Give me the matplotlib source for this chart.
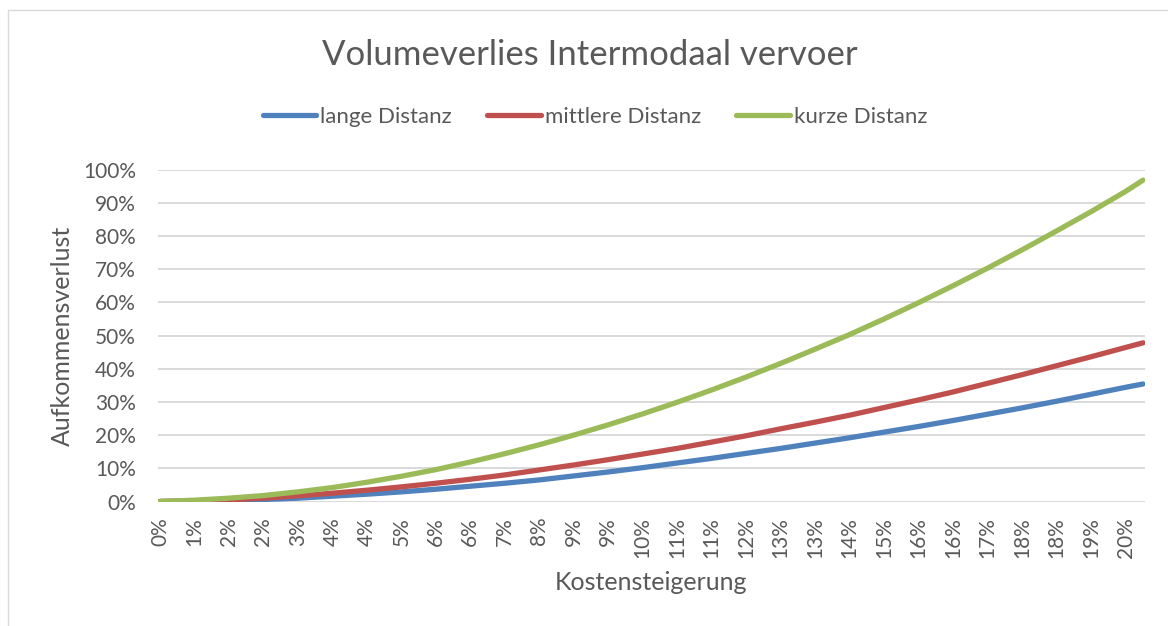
#--------------------------------------------------
# Volumeverlies Intermodaal vervoer: Aufkommensverlust vs. Kostensteigerung
#--------------------------------------------------
import matplotlib.pyplot as plt
from matplotlib.patches import Rectangle
from matplotlib.ticker import PercentFormatter

plt.rcParams['font.family'] = ['Lato', 'DejaVu Sans']

#--------------------------------------------------
# Daten
#--------------------------------------------------
# Kostensteigerung in %
kosten = [0.00, 0.71, 1.42, 2.13, 2.84, 3.55, 4.26, 4.97, 5.68, 6.39,
          7.10, 7.81, 8.52, 9.23, 9.94, 10.65, 11.36, 12.07, 12.78, 13.49,
          14.20, 14.91, 15.62, 16.33, 17.04, 17.75, 18.46, 19.17, 19.88, 20.24]
tick_labels = ['0%', '1%', '2%', '2%', '3%', '4%', '4%', '5%', '6%', '6%',
               '7%', '8%', '9%', '9%', '10%', '11%', '11%', '12%', '13%', '13%',
               '14%', '15%', '16%', '16%', '17%', '18%', '18%', '19%', '20%']

# Aufkommensverlust in %
lange = [0.0, 0.1, 0.3, 0.6, 1.0, 1.6, 2.2, 2.9, 3.7, 4.6,
         5.5, 6.5, 7.7, 8.9, 10.2, 11.6, 13.0, 14.5, 16.0, 17.6,
         19.2, 20.9, 22.6, 24.4, 26.3, 28.2, 30.2, 32.3, 34.4, 35.4]
mittlere = [0.0, 0.2, 0.5, 1.0, 1.7, 2.5, 3.4, 4.4, 5.5, 6.7,
            8.0, 9.5, 11.0, 12.6, 14.3, 16.0, 17.9, 19.8, 21.9, 23.9,
            26.0, 28.3, 30.6, 33.0, 35.6, 38.2, 40.9, 43.6, 46.4, 47.8]
kurze = [0.0, 0.4, 1.0, 1.8, 2.9, 4.2, 5.8, 7.6, 9.6, 11.9,
         14.4, 17.1, 20.0, 23.1, 26.4, 29.9, 33.6, 37.5, 41.6, 45.9,
         50.3, 55.0, 59.9, 65.0, 70.3, 75.8, 81.5, 87.3, 93.4, 96.8]

series = [('lange Distanz', lange, '#4F81BD'),
          ('mittlere Distanz', mittlere, '#C0504D'),
          ('kurze Distanz', kurze, '#9BBB59')]

text_color = '#595959'

#--------------------------------------------------
# Grafik
#--------------------------------------------------
fig = plt.figure(figsize=(11.68, 6.26), dpi=100)
fig.patches.append(Rectangle((8 / 1168, -0.01), 1.02, (626 - 10) / 626 + 0.01,
                             transform=fig.transFigure, fill=False,
                             edgecolor='#D9D9D9', linewidth=1.0))

ax = fig.add_axes([158 / 1168, 124.5 / 626, (1145 - 158) / 1168, 332 / 626])

for name, values, color in series:
    ax.plot(kosten, values, color=color, linewidth=3.8, label=name,
            solid_capstyle='round')

ax.set_xlim(-0.04, 20.28)
ax.set_ylim(0, 100)
ax.set_yticks(range(0, 101, 10))
ax.yaxis.set_major_formatter(PercentFormatter(decimals=0))
ax.set_xticks(kosten[:len(tick_labels)])
ax.set_xticklabels(tick_labels, rotation=90, va='top', ha='center')

ax.grid(axis='y', color='#D9D9D9', linewidth=1.4)
ax.set_axisbelow(True)
for s in ax.spines.values():
    s.set_visible(False)
ax.tick_params(axis='both', length=0, labelsize=15, labelcolor=text_color)
ax.tick_params(axis='y', pad=16)
ax.tick_params(axis='x', pad=11)

fig.text(590 / 1168, 1 - 55 / 626, 'Volumeverlies Intermodaal vervoer',
         ha='center', va='center', fontsize=25, color=text_color)
fig.text(62 / 1168, 1 - 336 / 626, 'Aufkommensverlust', rotation=90,
         ha='center', va='center', fontsize=18, color=text_color)
fig.text(651 / 1168, 1 - 582 / 626, 'Kostensteigerung',
         ha='center', va='center', fontsize=18, color=text_color)

fig.legend(loc='center', bbox_to_anchor=(595 / 1168, 1 - 117 / 626), ncol=3,
           frameon=False, fontsize=16, labelcolor=text_color,
           handlelength=2.4, handletextpad=0.18, columnspacing=1.6)

fig.savefig('out.png', dpi=100)
